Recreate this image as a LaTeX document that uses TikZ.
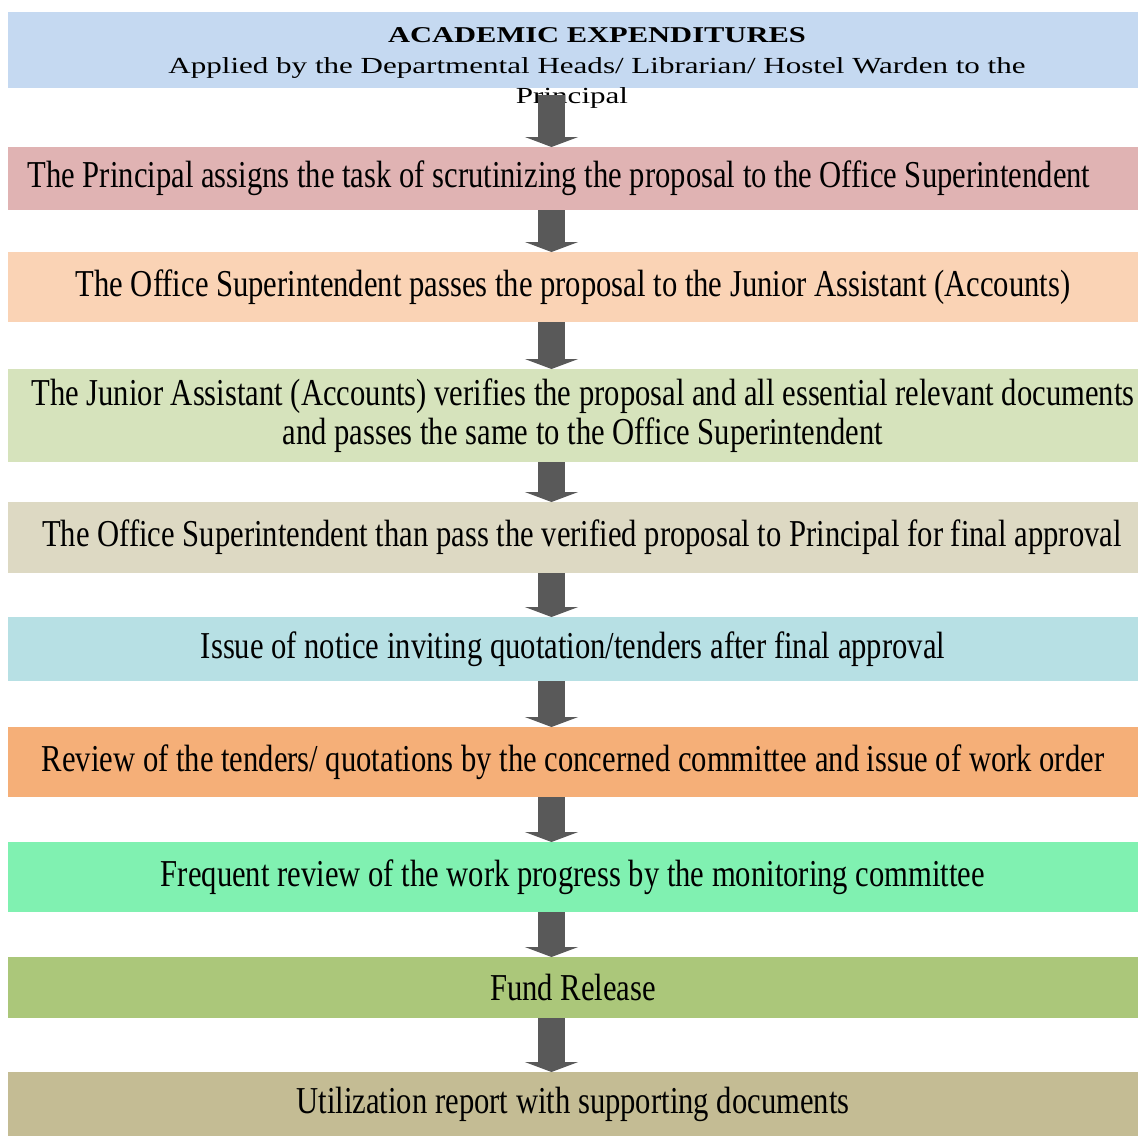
\documentclass[tikz,border=0pt]{standalone}
\usepackage{fontspec}
\setmainfont{Liberation Serif}
\newfontfamily\narrowfont{Liberation Serif}[FakeStretch=0.806]
\newfontfamily\widefont{Liberation Serif}[FakeStretch=1.35]
\usetikzlibrary{positioning}
\usetikzlibrary{arrows.meta}

\definecolor{headblue}{HTML}{C5D9F1}
\definecolor{steprose}{HTML}{E0B3B3}
\definecolor{steppeach}{HTML}{FAD3B5}
\definecolor{stepsage}{HTML}{D6E3BC}
\definecolor{stepsand}{HTML}{DDD9C3}
\definecolor{stepaqua}{HTML}{B7E0E4}
\definecolor{steporange}{HTML}{F5AF78}
\definecolor{stepmint}{HTML}{80F1B1}
\definecolor{stepolive}{HTML}{ABC77A}
\definecolor{stepkhaki}{HTML}{C4BC94}
\definecolor{arrowgrey}{HTML}{595959}

\begin{document}
\begin{tikzpicture}[
	x=0.5pt, y=-0.5pt,
	box/.style={rectangle, minimum width=565pt, inner sep=0pt, outer sep=0pt, align=center,
		font=\narrowfont\fontsize{19}{19.5}\selectfont},
	headtext/.style={align=center, inner sep=0pt, font=\widefont\fontsize{11.5}{15.2}\selectfont},
	flow/.style={line width=13.5pt, -{Triangle[width=26.5pt, length=5pt]}, arrowgrey}
	]
	\useasboundingbox (0,0) rectangle (1138,1136);
	% Boxes
	\node[box, fill=headblue, minimum height=38pt] (b1) at (573,50) {};
	\node[headtext] (t1) at (597,68) {{\fontsize{11.3}{15.2}\selectfont\bfseries ACADEMIC EXPENDITURES}\\Applied by the Departmental Heads/ Librarian/ Hostel Warden to the\\Principal\hspace*{25pt}};
	\node[box, fill=steprose, minimum height=31.5pt, below=29.5pt of b1] (b2) {The Principal assigns the task of scrutinizing the proposal to the Office Superintendent\hspace*{14pt}};
	\node[box, fill=steppeach, minimum height=35pt, below=21pt of b2] (b3) {The Office Superintendent passes the proposal to the Junior Assistant (Accounts)};
	\node[box, fill=stepsage, minimum height=46.5pt, below=23.5pt of b3] (b4) {\hspace*{10pt}The Junior Assistant (Accounts) verifies the proposal and all essential relevant documents\\\hspace*{10pt}and passes the same to the Office Superintendent};
	\node[box, fill=stepsand, minimum height=35.5pt, below=20pt of b4] (b5) {\hspace*{9pt}The Office Superintendent than pass the verified proposal to Principal for final approval};
	\node[box, fill=stepaqua, minimum height=32pt, below=22pt of b5] (b6) {Issue of notice inviting quotation/tenders after final approval};
	\node[box, fill=steporange, minimum height=35pt, below=23pt of b6] (b7) {Review of the tenders/ quotations by the concerned committee and issue of work order};
	\node[box, fill=stepmint, minimum height=35pt, below=22.5pt of b7] (b8) {Frequent review of the work progress by the monitoring committee};
	\node[box, fill=stepolive, minimum height=30.5pt, below=22.5pt of b8] (b9) {Fund Release};
	\node[box, fill=stepkhaki, minimum height=32pt, below=27pt of b9] (b10) {Utilization report with supporting documents};
	
	% Arrows
	\coordinate (ax) at (551.5,0);
	\draw[flow] ([yshift=-3.5pt]b1.south -| ax) -- (b2.north -| ax);
	\foreach \i [evaluate=\i as \j using int(\i+1)] in {2,...,9}
		\draw[flow] (b\i.south -| ax) -- (b\j.north -| ax);
\end{tikzpicture}
\end{document}
